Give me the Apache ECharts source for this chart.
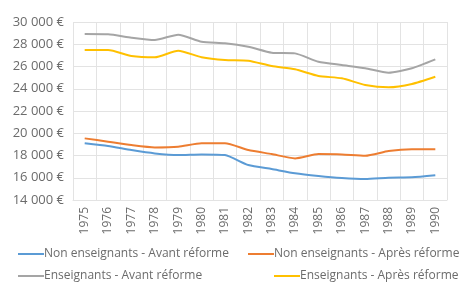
<!DOCTYPE html>
<html>
<head>
<meta charset="utf-8">
<script src="https://cdn.jsdelivr.net/npm/echarts@6/dist/echarts.min.js"></script>
<style>
    html, body { margin: 0; padding: 0; background: #fff; }
    #chart { width: 468px; height: 289px; }
</style>
</head>
<body>
<div id="chart"></div>
<script>
// années
const years = ['1975', '1976', '1977', '1978', '1979', '1980', '1981', '1982',
    '1983', '1984', '1985', '1986', '1987', '1988', '1989', '1990'];

// salaires moyens (€)
const nonEnsAvant = [19100, 18850, 18490, 18190, 18040, 18100, 18040, 17140,
    16780, 16400, 16160, 15980, 15890, 16010, 16040, 16220];
const nonEnsApres = [19540, 19240, 18940, 18730, 18790, 19100, 19100, 18490,
    18130, 17740, 18130, 18100, 17980, 18400, 18560, 18560];
const ensAvant = [28920, 28900, 28590, 28380, 28860, 28230, 28100, 27780,
    27240, 27180, 26430, 26130, 25840, 25440, 25840, 26640];
const ensApres = [27480, 27480, 26950, 26830, 27420, 26830, 26580, 26520,
    26040, 25750, 25150, 24940, 24340, 24130, 24430, 25080];

const seriesNames = [
    'Non enseignants - Avant réforme',
    'Non enseignants - Après réforme',
    'Enseignants - Avant réforme',
    'Enseignants - Après réforme'
];
const seriesColors = ['#5b9bd5', '#ed7d31', '#a5a5a5', '#ffc000'];
const seriesData = [nonEnsAvant, nonEnsApres, ensAvant, ensApres];

const gridColor = '#e3e3e3';
const textColor = '#6b6b6b';
const fontFamily = '"Open Sans", "DejaVu Sans", sans-serif';

const chart = echarts.init(document.getElementById('chart'));

function euro(v) {
    return String(v).replace(/\B(?=(\d{3})+(?!\d))/g, ' ') + ' €';
}

// une légende par entrée, pour reproduire la disposition sur deux lignes
const legendPos = [
    {left: 18, top: 248},
    {left: 248, top: 248},
    {left: 18, top: 270},
    {left: 274, top: 270}
];
const legends = seriesNames.map(function(name, i) {
    return {
        data: [name],
        left: legendPos[i].left,
        top: legendPos[i].top,
        icon: 'rect',
        itemWidth: 26,
        itemHeight: 2,
        itemGap: 0,
        padding: 0,
        selectedMode: false,
        textStyle: {
            color: textColor,
            fontSize: 12,
            fontFamily: fontFamily,
            padding: [0, 0, 0, -5]
        }
    };
});

const option = {
    animation: false,
    backgroundColor: '#fff',
    grid: {
        left: 73,
        right: 21,
        top: 22,
        bottom: 89
    },
    legend: legends,
    xAxis: {
        type: 'category',
        boundaryGap: true,
        data: years,
        axisTick: {show: false},
        axisLine: {lineStyle: {color: gridColor, width: 1}},
        axisLabel: {
            rotate: 90,
            margin: 7,
            color: textColor,
            fontSize: 12,
            fontFamily: fontFamily
        },
        splitLine: {show: true, lineStyle: {color: gridColor, width: 1}}
    },
    yAxis: {
        type: 'value',
        min: 14000,
        max: 30000,
        interval: 2000,
        axisLine: {show: false},
        axisTick: {show: false},
        axisLabel: {
            margin: 9,
            color: textColor,
            fontSize: 13,
            fontFamily: fontFamily,
            formatter: euro
        },
        splitLine: {show: true, lineStyle: {color: gridColor, width: 1}}
    },
    series: seriesNames.map(function(name, i) {
        return {
            name: name,
            type: 'line',
            data: seriesData[i],
            smooth: 0.2,
            symbol: 'none',
            color: seriesColors[i],
            lineStyle: {width: 2, color: seriesColors[i]}
        };
    })
};

chart.setOption(option);
</script>
</body>
</html>
